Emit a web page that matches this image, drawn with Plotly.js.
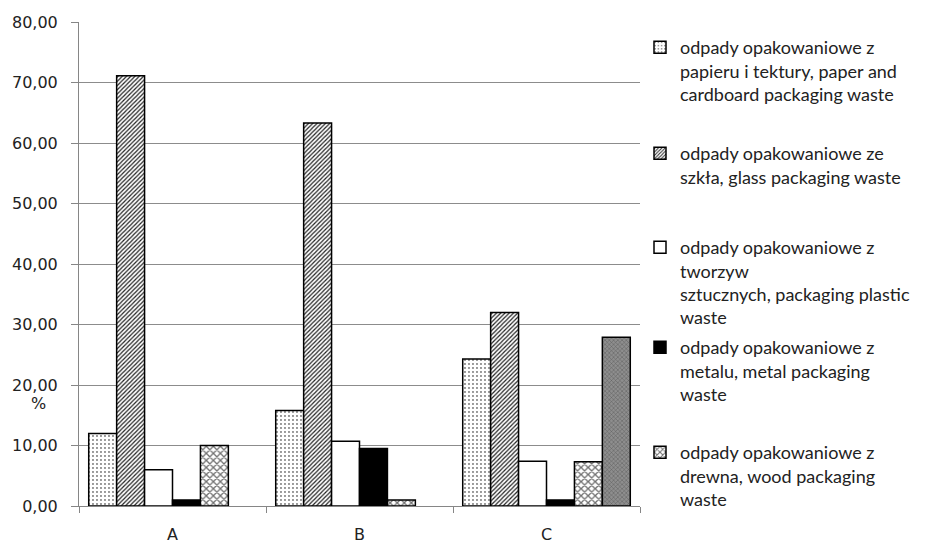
<!DOCTYPE html>
<html>
<head>
<meta charset="utf-8">
<script src="https://cdn.plot.ly/plotly-3.0.1.min.js"></script>
<style>html,body{margin:0;padding:0;background:#fff;}#chart{width:938px;height:546px;}</style>
</head>
<body>
<div id="chart"></div>
<script>
const categories = ['A', 'B', 'C'];
const paper = [12.0, 15.8, 24.3];
const glass = [71.1, 63.3, 32.0];
const plastic = [6.0, 10.7, 7.4];
const metal = [1.0, 9.5, 1.0];
const wood = [10.0, 1.0, 7.3];
const other = [null, null, 27.9];
const seriesNames = [
  'odpady opakowaniowe z<br>papieru i tektury, paper and<br>cardboard packaging waste',
  'odpady opakowaniowe ze<br>szkła, glass packaging waste',
  'odpady opakowaniowe z<br>tworzyw<br>sztucznych, packaging plastic<br>waste',
  'odpady opakowaniowe z<br>metalu, metal packaging<br>waste',
  'odpady opakowaniowe z<br>drewna, wood packaging<br>waste'
];
const yTicks = [0, 10, 20, 30, 40, 50, 60, 70, 80];

const line = {color: '#000', width: 1.5};
const traces = [
  {type: 'bar', x: categories, y: paper, name: seriesNames[0], legend: 'legend',
   marker: {color: '#fff', line: line, pattern: {shape: '.', fgcolor: '#000', bgcolor: '#fff', size: 4, solidity: 0.1}}},
  {type: 'bar', x: categories, y: glass, name: seriesNames[1], legend: 'legend2',
   marker: {color: '#fff', line: line, pattern: {shape: '/', fgcolor: '#222', bgcolor: '#fff', size: 3, solidity: 0.4}}},
  {type: 'bar', x: categories, y: plastic, name: seriesNames[2], legend: 'legend3',
   marker: {color: '#fff', line: line}},
  {type: 'bar', x: categories, y: metal, name: seriesNames[3], legend: 'legend4',
   marker: {color: '#000', line: line}},
  {type: 'bar', x: categories, y: wood, name: seriesNames[4], legend: 'legend5',
   marker: {color: '#fff', line: line, pattern: {shape: 'x', fgcolor: '#707070', bgcolor: '#fff', size: 5, solidity: 0.45}}},
  {type: 'bar', x: categories, y: other, name: 'inne', showlegend: false,
   marker: {color: '#8a8a8a', line: line, pattern: {shape: 'x', fgcolor: '#5a5a5a', bgcolor: '#8e8e8e', size: 3, solidity: 0.3}}}
];

const legFont = {family: 'Lato, "Open Sans", sans-serif', size: 18, color: '#222'};
function leg(yPix) {
  return {xref: 'container', yref: 'container', x: 640 / 938, y: 1 - yPix / 546,
    xanchor: 'left', yanchor: 'top', font: legFont, valign: 'top',
    bgcolor: 'rgba(0,0,0,0)', borderwidth: 0, tracegroupgap: 0};
}

const tickFont = {family: '"DejaVu Sans", Verdana, sans-serif', size: 16, color: '#222'};
const layout = {
  width: 938, height: 546,
  margin: {l: 79, r: 290, t: 22, b: 40},
  paper_bgcolor: '#fff', plot_bgcolor: '#fff',
  separators: ', ',
  barmode: 'group', bargap: 0.104, bargroupgap: 0,
  font: tickFont,
  showlegend: true,
  legend: leg(29),
  legend2: leg(135),
  legend3: leg(229),
  legend4: leg(329),
  legend5: leg(434),
  xaxis: {
    type: 'category', showgrid: false, showline: true, linecolor: '#868686', linewidth: 1,
    ticks: 'outside', tickson: 'boundaries', ticklen: 6, tickcolor: '#868686',
    tickfont: tickFont, ticklabelstandoff: 14,
    zeroline: false
  },
  yaxis: {
    range: [0, 80], tickvals: yTicks, tickformat: '.2f',
    showgrid: true, gridcolor: '#8c8c8c', gridwidth: 1,
    showline: true, linecolor: '#868686', linewidth: 1,
    ticks: 'outside', ticklen: 7, tickcolor: '#868686',
    ticklabelstandoff: 10,
    zeroline: false,
    tickfont: tickFont
  },
  annotations: [
    {text: '%', xref: 'paper', yref: 'y', x: -0.0726, y: 17.0, showarrow: false,
     xanchor: 'center', yanchor: 'middle', font: tickFont}
  ]
};

Plotly.newPlot('chart', traces, layout, {displayModeBar: false, staticPlot: true});
</script>
</body>
</html>
